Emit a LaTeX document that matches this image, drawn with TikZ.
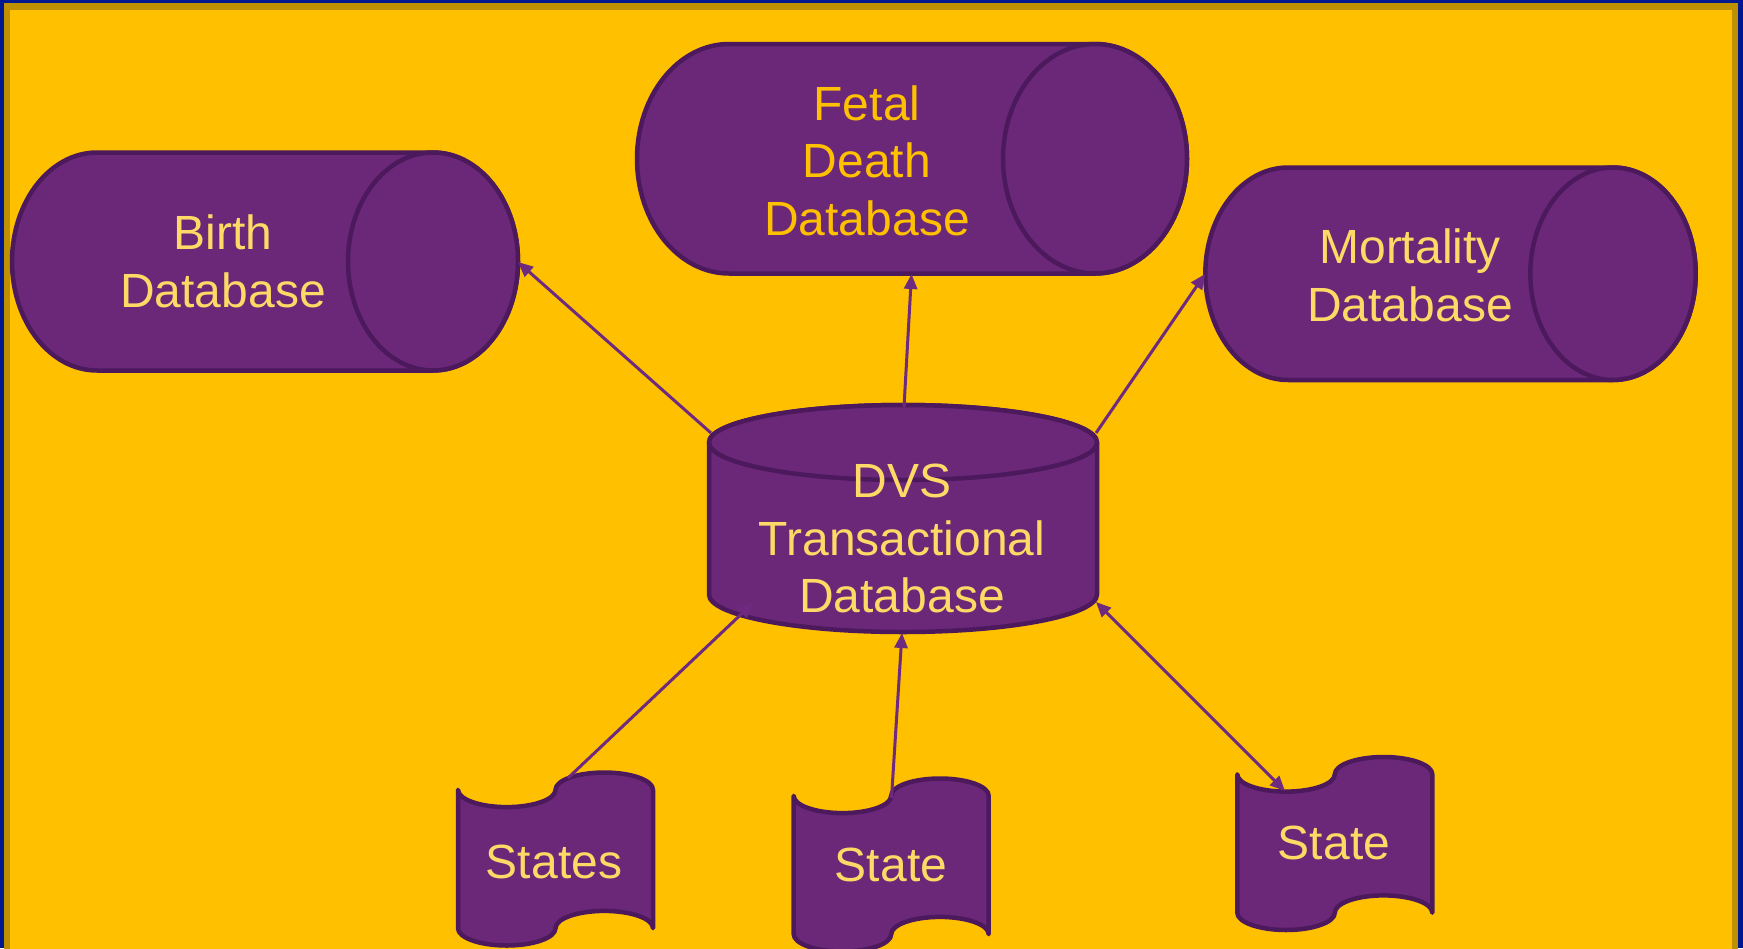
\documentclass[tikz,border=0pt]{standalone}
\usepackage{fontspec}
\setmainfont{Liberation Sans}
\usetikzlibrary{arrows.meta}
\definecolor{gold}{HTML}{FFC000}
\definecolor{darkgold}{HTML}{BF9000}
\definecolor{frameblue}{HTML}{00188F}
\definecolor{dbfill}{HTML}{6B2879}
\definecolor{dbline}{HTML}{4C195C}
\definecolor{arrowpurple}{HTML}{6E2A7E}
\definecolor{lighttext}{HTML}{FFD966}
\newcommand\punchtape[2]{%
  \path[dbshape] ({#1},{#2+17.3})
    arc[start angle=180,end angle=0,x radius=48.75,y radius=17.3]
    arc[start angle=180,end angle=360,x radius=48.75,y radius=17.3]
    -- ({#1+195},{#2+155.7})
    arc[start angle=0,end angle=-180,x radius=48.75,y radius=17.3]
    arc[start angle=0,end angle=180,x radius=48.75,y radius=17.3]
    -- cycle;}
\begin{document}
\begin{tikzpicture}[x=1pt,y=-1pt,
  dbshape/.style={fill=dbfill,draw=dbline,line width=4.5pt,line join=round},
  dbtext/.style={font=\fontsize{48}{57.5}\selectfont,text=lighttext,align=center,inner sep=0pt},
  flowarrow/.style={draw=arrowpurple,line width=3pt,-{Triangle[length=15pt,width=13pt]}},
  flowboth/.style={draw=arrowpurple,line width=3pt,{Triangle[length=15pt,width=13pt]}-{Triangle[length=15pt,width=13pt]}}]
\useasboundingbox (0,0) rectangle (1743,948);
\clip (0,0) rectangle (1743,948);
% frame
\fill[frameblue] (0,0) rectangle (1743,948);
\fill[darkgold] (4,3) rectangle (1738,970);
\fill[gold] (10,10) rectangle (1732,970);
% Birth database
\path[dbshape] (97,152.5) -- (433,152.5)
  arc[start angle=-90,end angle=90,x radius=85,y radius=109]
  -- (97,370.5)
  arc[start angle=90,end angle=270,x radius=85,y radius=109] -- cycle;
\path[dbshape] (433,261.5) ellipse[x radius=85,y radius=109];
% Fetal death database
\path[dbshape] (729,44) -- (1095,44)
  arc[start angle=-90,end angle=90,x radius=92,y radius=114.75]
  -- (729,273.5)
  arc[start angle=90,end angle=270,x radius=92,y radius=114.75] -- cycle;
\path[dbshape] (1095,158.75) ellipse[x radius=92,y radius=114.75];
% Mortality database
\path[dbshape] (1288,167.5) -- (1613,167.5)
  arc[start angle=-90,end angle=90,x radius=82.7,y radius=106.25]
  -- (1288,380)
  arc[start angle=90,end angle=270,x radius=82.7,y radius=106.25] -- cycle;
\path[dbshape] (1613,273.75) ellipse[x radius=82.7,y radius=106.25];
% DVS transactional database
\path[dbshape] (709,442.5) -- (709,594.5)
  arc[start angle=180,end angle=0,x radius=194,y radius=37.5]
  -- (1097,442.5)
  arc[start angle=0,end angle=-180,x radius=194,y radius=37.5] -- cycle;
\path[dbshape] (903,442.5) ellipse[x radius=194,y radius=37.5];
% State tapes
\punchtape{458}{772.5}
\punchtape{793.7}{778.5}
\punchtape{1237.3}{757}
% texts
\node[dbtext] (birthtxt) at (223,261.5) {Birth\\Database};
\node[dbtext,text=gold] (fetaltxt) at (867,160.5) {Fetal\\Death\\Database};
\node[dbtext] (morttxt) at (1410,275.5) {Mortality\\Database};
\node[dbtext] (dvstxt) at (902,538.5) {DVS\\Transactional\\Database};
\node[dbtext] (statestxt) at (554,861.5) {States};
\node[dbtext] (statemtxt) at (891,865) {State};
\node[dbtext] (statertxt) at (1334,843) {State};
% connector end points
\coordinate (birthR) at (518,262);
\coordinate (dvsTL) at (711,433);
\coordinate (fetalB) at (911.5,274);
\coordinate (dvsT) at (904,407);
\coordinate (mortL) at (1205,274);
\coordinate (dvsTR) at (1096,433);
\coordinate (statesT) at (568,778);
\coordinate (dvsBL) at (753,603);
\coordinate (stateMT) at (891.5,798);
\coordinate (dvsB) at (902,633);
\coordinate (dvsBR) at (1096,602);
\coordinate (stateRT) at (1285,791);
% connectors
\draw[flowarrow] (dvsTL) -- (birthR);
\draw[flowarrow] (dvsT) -- (fetalB);
\draw[flowarrow] (dvsTR) -- (mortL);
\draw[flowarrow] (statesT) -- (dvsBL);
\draw[flowarrow] (stateMT) -- (dvsB);
\draw[flowboth] (dvsBR) -- (stateRT);
\end{tikzpicture}
\end{document}
